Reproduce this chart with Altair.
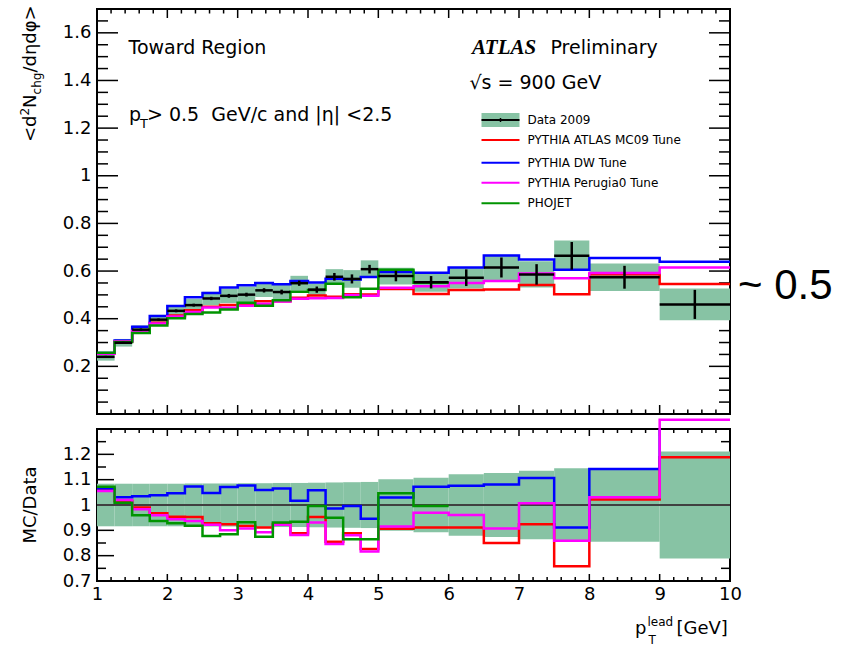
import altair as alt
import pandas as pd

# ---------------- data ----------------
edges = [1.0, 1.25, 1.5, 1.75, 2.0, 2.25, 2.5, 2.75, 3.0, 3.25, 3.5, 3.75,
         4.0, 4.25, 4.5, 4.75, 5.0, 5.5, 6.0, 6.5, 7.0, 7.5, 8.0, 9.0, 10.0]
data_val = [0.240, 0.299, 0.354, 0.396, 0.433, 0.457, 0.485, 0.496, 0.501, 0.519, 0.512, 0.549,
            0.522, 0.576, 0.567, 0.608, 0.579, 0.553, 0.572, 0.615, 0.586, 0.664, 0.574, 0.460]
data_stat = [0.004, 0.004, 0.005, 0.005, 0.006, 0.006, 0.007, 0.008, 0.008, 0.009, 0.010, 0.011,
             0.013, 0.016, 0.019, 0.018, 0.022, 0.026, 0.035, 0.042, 0.043, 0.058, 0.048, 0.061]
data_syst = [0.016, 0.016, 0.017, 0.020, 0.022, 0.026, 0.028, 0.030, 0.034, 0.028, 0.036, 0.031,
             0.026, 0.032, 0.037, 0.037, 0.035, 0.040, 0.045, 0.053, 0.055, 0.064, 0.058, 0.067]

mc09 = [0.254, 0.304, 0.350, 0.383, 0.413, 0.436, 0.450, 0.458, 0.459, 0.473, 0.473, 0.488,
        0.497, 0.492, 0.503, 0.502, 0.525, 0.504, 0.521, 0.523, 0.541, 0.503, 0.587, 0.546]
dw = [0.256, 0.308, 0.366, 0.411, 0.453, 0.490, 0.508, 0.531, 0.540, 0.550, 0.545, 0.558,
      0.552, 0.568, 0.565, 0.575, 0.596, 0.593, 0.615, 0.665, 0.649, 0.605, 0.655, 0.639]
perugia0 = [0.253, 0.305, 0.348, 0.380, 0.409, 0.428, 0.447, 0.446, 0.454, 0.463, 0.472, 0.484,
            0.486, 0.487, 0.500, 0.496, 0.530, 0.536, 0.550, 0.558, 0.590, 0.570, 0.592, 0.615]
phojet = [0.257, 0.302, 0.340, 0.371, 0.402, 0.420, 0.426, 0.439, 0.467, 0.454, 0.477, 0.513,
          0.520, 0.547, 0.490, 0.526, 0.606, 0.551]

ratio_band = [0.084, 0.084, 0.084, 0.084, 0.084, 0.085, 0.085, 0.085, 0.086, 0.086, 0.087, 0.087,
              0.088, 0.089, 0.090, 0.091, 0.102, 0.108, 0.121, 0.126, 0.135, 0.145, 0.145, 0.211]
r_mc09 = [1.060, 1.016, 0.990, 0.967, 0.954, 0.953, 0.928, 0.924, 0.917, 0.911, 0.924, 0.888,
          0.953, 0.855, 0.888, 0.826, 0.906, 0.911, 0.911, 0.850, 0.924, 0.758, 1.022, 1.188]
r_dw = [1.065, 1.031, 1.035, 1.038, 1.046, 1.073, 1.047, 1.071, 1.077, 1.059, 1.065, 1.017,
        1.058, 0.986, 0.996, 0.946, 1.030, 1.072, 1.076, 1.081, 1.107, 0.911, 1.142, 1.390]
r_perugia0 = [1.055, 1.020, 0.983, 0.960, 0.944, 0.937, 0.922, 0.900, 0.907, 0.892, 0.922, 0.882,
              0.931, 0.846, 0.881, 0.816, 0.915, 0.969, 0.961, 0.907, 1.007, 0.859, 1.031, 1.337]
r_phojet = [1.072, 1.009, 0.960, 0.937, 0.928, 0.918, 0.878, 0.885, 0.932, 0.875, 0.931, 0.934,
            0.996, 0.950, 0.865, 0.865, 1.046, 0.996]

series_names = ["PYTHIA ATLAS MC09 Tune", "PYTHIA DW Tune", "PYTHIA Perugia0 Tune", "PHOJET"]
series_colors = ["#ff0000", "#0000ff", "#ff00ff", "#009400"]
top_series = [mc09, dw, perugia0, phojet]
ratio_series = [r_mc09, r_dw, r_perugia0, r_phojet]
ratio_clip = [False, True, False, False]

top_y_labels = [0.2, 0.4, 0.6, 0.8, 1.0, 1.2, 1.4, 1.6]
ratio_y_labels = [0.7, 0.8, 0.9, 1.0, 1.1, 1.2]
x_labels = [1, 2, 3, 4, 5, 6, 7, 8, 9, 10]

# ---------------- layout constants ----------------
W = 633
H_TOP = 405
H_RAT = 152
BAND = "#87c3a4"
FONT = "DejaVu Sans"
NB = "\u00a0"

XS = alt.Scale(domain=[1, 10], nice=False, zero=False)
YT = alt.Scale(domain=[0, 1.7], nice=False, zero=False)
YR = alt.Scale(domain=[0.7, 1.3], nice=False, zero=False)

label_expr = "datum.value == 1 ? '1' : format(datum.value, '.1f')"
TOP_Y_AXIS = alt.Axis(values=top_y_labels, labelExpr=label_expr, ticks=False, domain=False,
                      grid=False, labelPadding=6, title=None, labelFont=FONT, labelFontSize=18,
                      labelColor="black", labelFlush=False)
RAT_Y_AXIS = alt.Axis(values=ratio_y_labels, labelExpr=label_expr, ticks=False, domain=False,
                      grid=False, labelPadding=6, title=None, labelFont=FONT, labelFontSize=18,
                      labelColor="black", labelFlush=False)
RAT_X_AXIS = alt.Axis(values=x_labels, format="d", ticks=False, domain=False, grid=False,
                      labelPadding=4, title=None, labelFont=FONT, labelFontSize=18,
                      labelColor="black", labelFlush=False)

bins = pd.DataFrame({
    "lo": edges[:-1], "hi": edges[1:],
    "val": data_val, "stat": data_stat, "syst": data_syst, "rb": ratio_band,
})
bins["mid"] = (bins["lo"] + bins["hi"]) / 2
bins["blo"] = bins["val"] - bins["syst"]
bins["bhi"] = bins["val"] + bins["syst"]
bins["elo"] = bins["val"] - bins["stat"]
bins["ehi"] = bins["val"] + bins["stat"]
bins["rlo"] = 1 - bins["rb"]
bins["rhi"] = 1 + bins["rb"]

one = pd.DataFrame({"t": [""]})


def steps(vals):
    xs = edges[:len(vals)] + [edges[len(vals)]]
    ys = list(vals) + [vals[-1]]
    return pd.DataFrame({"x": xs, "y": ys})


def txt(s, x, y, size, font=FONT, angle=0, align="left", baseline="alphabetic",
        style="normal", weight="normal"):
    return alt.Chart(pd.DataFrame({"t": [s]})).mark_text(
        align=align, baseline=baseline, font=font, fontSize=size, angle=angle,
        fontStyle=style, fontWeight=weight, color="black"
    ).encode(text="t:N", x=alt.value(x), y=alt.value(y))


def yticks(values, length, yscale, yaxis):
    df = pd.DataFrame({"v": values})
    left = alt.Chart(df).mark_rule(color="black", strokeWidth=1.5).encode(
        y=alt.Y("v:Q", scale=yscale, axis=yaxis), x=alt.value(0), x2=alt.value(length))
    right = alt.Chart(df).mark_rule(color="black", strokeWidth=1.5).encode(
        y=alt.Y("v:Q", scale=yscale, axis=yaxis), x=alt.value(W), x2=alt.value(W - length))
    return [left, right]


def xticks(values, length, height, xaxis):
    df = pd.DataFrame({"v": values})
    bot = alt.Chart(df).mark_rule(color="black", strokeWidth=1.5).encode(
        x=alt.X("v:Q", scale=XS, axis=xaxis), y=alt.value(height), y2=alt.value(height - length))
    top = alt.Chart(df).mark_rule(color="black", strokeWidth=1.5).encode(
        x=alt.X("v:Q", scale=XS, axis=xaxis), y=alt.value(0), y2=alt.value(length))
    return [bot, top]


x_major = [2, 3, 4, 5, 6, 7, 8, 9]
x_minor = [1 + 0.2 * k for k in range(1, 45) if k % 5 != 0]
ty_major = [0.2 * k for k in range(1, 9)]
ty_minor = [0.05 * k for k in range(1, 34) if k % 4 != 0]
ry_major = [0.8, 0.9, 1.0, 1.1, 1.2]
ry_minor = [0.75, 0.85, 0.95, 1.05, 1.15, 1.25]

# ---------------- top panel ----------------
top_layers = []
top_layers += yticks(ty_major, 21, YT, TOP_Y_AXIS) + yticks(ty_minor, 11, YT, TOP_Y_AXIS)
top_layers += xticks(x_major, 9, H_TOP, None) + xticks(x_minor, 4.5, H_TOP, None)

top_layers.append(alt.Chart(bins).mark_rect(color=BAND).encode(
    x=alt.X("lo:Q", scale=XS, axis=None), x2="hi:Q",
    y=alt.Y("blo:Q", scale=YT, axis=TOP_Y_AXIS), y2="bhi:Q"))

for vals, col in zip(top_series, series_colors):
    top_layers.append(alt.Chart(steps(vals)).mark_line(
        interpolate="step-after", color=col, strokeWidth=2.5).encode(
        x=alt.X("x:Q", scale=XS, axis=None), y=alt.Y("y:Q", scale=YT, axis=TOP_Y_AXIS)))

top_layers.append(alt.Chart(bins).mark_rule(color="black", strokeWidth=2.5).encode(
    x=alt.X("lo:Q", scale=XS, axis=None), x2="hi:Q",
    y=alt.Y("val:Q", scale=YT, axis=TOP_Y_AXIS)))
top_layers.append(alt.Chart(bins).mark_rule(color="black", strokeWidth=2.5).encode(
    x=alt.X("mid:Q", scale=XS, axis=None),
    y=alt.Y("elo:Q", scale=YT, axis=TOP_Y_AXIS), y2="ehi:Q"))

# y title  <d^2 N_chg / d eta d phi>
bx, y0 = -61.5, 133
top_layers.append(txt("<d", bx, y0, 18, angle=270))
top_layers.append(txt("2", bx - 7, y0 - 26.5, 12, angle=270))
top_layers.append(txt("N", bx, y0 - 34.1, 18, angle=270))
top_layers.append(txt("chg", bx + 5, y0 - 47.6, 12, angle=270))
top_layers.append(txt("/dηdφ>", bx, y0 - 69.4, 18, angle=270))

# annotations
top_layers.append(txt("Toward Region", 31.5, 39, 19, baseline="middle"))
top_layers.append(txt("p", 32, 112, 19))
top_layers.append(txt("T", 43, 119, 13))
top_layers.append(txt(">" + NB + "0.5" + NB + NB + "GeV/c and |η| <2.5", 50, 112, 19))
top_layers.append(txt("ATLAS", 375, 39, 21, font="Liberation Serif", style="italic",
                      weight="bold", baseline="middle"))
top_layers.append(txt("Preliminary", 453.5, 39, 19, baseline="middle"))
top_layers.append(txt("√s = 900 GeV", 372.5, 74, 19, baseline="middle"))
top_layers.append(txt("~ 0.5", 641, 277, 42, font="Liberation Sans", baseline="middle"))

# legend
lx1, lx2, ltx = 384.5, 422.5, 430.5
leg_y = [111, 131, 153.7, 173.7, 194.3]
top_layers.append(alt.Chart(one).mark_rect(color=BAND).encode(
    x=alt.value(lx1), x2=alt.value(lx2), y=alt.value(leg_y[0] - 7), y2=alt.value(leg_y[0] + 7)))
top_layers.append(alt.Chart(one).mark_rule(color="black", strokeWidth=2).encode(
    x=alt.value(lx1), x2=alt.value(lx2), y=alt.value(leg_y[0])))
top_layers.append(alt.Chart(one).mark_rule(color="black", strokeWidth=1.5).encode(
    x=alt.value((lx1 + lx2) / 2), y=alt.value(leg_y[0] - 2), y2=alt.value(leg_y[0] + 2)))
top_layers.append(txt("Data 2009", ltx, leg_y[0], 12, baseline="middle"))
for name, col, yy in zip(series_names, series_colors, leg_y[1:]):
    top_layers.append(alt.Chart(one).mark_rule(color=col, strokeWidth=2).encode(
        x=alt.value(lx1), x2=alt.value(lx2), y=alt.value(yy)))
    top_layers.append(txt(name, ltx, yy, 12, baseline="middle"))

# layout anchor (fixes plot-area origin in the page)
top_layers.append(alt.Chart(one).mark_rule(color="white", strokeWidth=1).encode(
    x=alt.value(-95), x2=alt.value(-94.5), y=alt.value(-7.5), y2=alt.value(-7)))

top = alt.layer(*top_layers).properties(width=W, height=H_TOP)

# ---------------- ratio panel ----------------
rat_layers = []
rat_layers += yticks(ry_major, 17, YR, RAT_Y_AXIS) + yticks(ry_minor, 9, YR, RAT_Y_AXIS)
rat_layers += xticks(x_major, 7, H_RAT, RAT_X_AXIS) + xticks(x_minor, 4, H_RAT, RAT_X_AXIS)

rat_layers.append(alt.Chart(bins).mark_rect(color=BAND).encode(
    x=alt.X("lo:Q", scale=XS, axis=RAT_X_AXIS), x2="hi:Q",
    y=alt.Y("rlo:Q", scale=YR, axis=RAT_Y_AXIS), y2="rhi:Q"))

rat_layers.append(alt.Chart(one).mark_rule(color="#404040", strokeWidth=2).encode(
    y=alt.Y("unity:Q", scale=YR, axis=RAT_Y_AXIS), x=alt.value(0), x2=alt.value(W)
).transform_calculate(unity="1"))

for vals, col, clip in zip(ratio_series, series_colors, ratio_clip):
    rat_layers.append(alt.Chart(steps(vals)).mark_line(
        interpolate="step-after", color=col, strokeWidth=2.5, clip=clip).encode(
        x=alt.X("x:Q", scale=XS, axis=RAT_X_AXIS), y=alt.Y("y:Q", scale=YR, axis=RAT_Y_AXIS)))

rat_layers.append(txt("MC/Data", -61.5, 76, 18, angle=270, align="center"))
rat_layers.append(txt("p", 538, 205, 18))
rat_layers.append(txt("lead", 550.5, 196.5, 12))
rat_layers.append(txt("T", 551.5, 214.5, 12))
rat_layers.append(txt("[GeV]", 579.5, 205, 18))

ratio = alt.layer(*rat_layers).properties(width=W, height=H_RAT)

chart = alt.vconcat(top, ratio, spacing=15, bounds="flush").properties(
    padding={"left": 0, "top": 0, "right": 0, "bottom": 0}, background="white"
).configure_view(stroke="black", strokeWidth=2)

chart.save("out.html", embed_options={"renderer": "svg", "actions": False})
